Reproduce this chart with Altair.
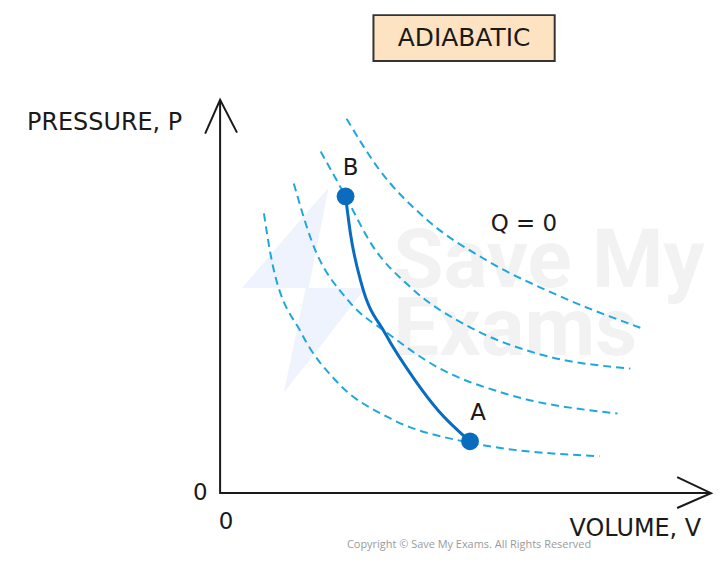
import altair as alt
import pandas as pd

# ---------------- data (V, P in arbitrary units, origin at axes corner) ----------------
iso1_v = [0.88, 1.04, 1.64, 2.38, 3.38, 4.98, 7.62]
iso1_p = [5.62, 4.66, 3.20, 2.20, 1.52, 1.02, 0.74]
iso2_v = [1.48, 1.84, 2.58, 3.38, 4.38, 5.72, 7.98]
iso2_p = [6.22, 5.06, 3.86, 3.20, 2.52, 2.00, 1.60]
iso3_v = [2.02, 2.52, 3.04, 3.84, 5.04, 6.38, 8.24]
iso3_p = [6.86, 5.96, 5.00, 4.12, 3.32, 2.80, 2.50]
iso4_v = [2.54, 3.18, 4.12, 5.38, 6.72, 8.44]
iso4_p = [7.52, 6.52, 5.52, 4.66, 4.00, 3.32]

adia_v = [2.52, 2.62, 2.84, 3.32, 3.92, 4.38, 5.02]
adia_p = [5.96, 5.20, 4.20, 3.20, 2.26, 1.66, 1.04]

point_names = ["A", "B"]
point_v = [5.02, 2.52]
point_p = [1.04, 5.96]

# axes (L shape + arrow heads)
axis_v = [0.0, 0.0, 9.86]
axis_p = [7.90, 0.0, 0.0]
arrow_up_v = [-0.30, 0.0, 0.34]
arrow_up_p = [7.22, 7.90, 7.24]
arrow_right_v = [9.18, 9.86, 9.18]
arrow_right_p = [0.32, 0.0, -0.30]

# watermark logo (two faint triangles)
logo1_v = [0.44, 1.78, 2.18]
logo1_top = [4.12, 5.68, 6.14]
logo1_bot = [4.12, 4.12, 6.14]
logo2_v = [1.28, 1.72, 2.92]
logo2_top = [2.02, 4.12, 4.12]
logo2_bot = [2.02, 2.58, 4.12]

# title box
box_v = [3.08]
box_v2 = [6.72]
box_p = [9.60]
box_p2 = [8.68]

# ---------------- scales ----------------
W, H = 707, 545
PX = 50.0
XMIN = -(221 - 8) / PX
XMAX = XMIN + W / PX
YMAX = (494 - 8) / PX
YMIN = YMAX - H / PX

xs = alt.Scale(domain=[XMIN, XMAX], nice=False, zero=False)
ys = alt.Scale(domain=[YMIN, YMAX], nice=False, zero=False)


def X(f="v"):
    return alt.X(f"{f}:Q", scale=xs, axis=None)


def Y(f="p"):
    return alt.Y(f"{f}:Q", scale=ys, axis=None)


def curve_df(vs, ps, name):
    return pd.DataFrame({"v": vs, "p": ps, "c": name, "o": range(len(vs))})


iso_df = pd.concat([
    curve_df(iso1_v, iso1_p, "i1"),
    curve_df(iso2_v, iso2_p, "i2"),
    curve_df(iso3_v, iso3_p, "i3"),
    curve_df(iso4_v, iso4_p, "i4"),
])
adia_df = curve_df(adia_v, adia_p, "ad")
axes_df = pd.concat([
    curve_df(axis_v, axis_p, "ax"),
    curve_df(arrow_up_v, arrow_up_p, "au"),
    curve_df(arrow_right_v, arrow_right_p, "ar"),
])
pts_df = pd.DataFrame({"name": point_names, "v": point_v, "p": point_p})

logo_df = pd.concat([
    pd.DataFrame({"v": logo1_v, "p": logo1_top, "p2": logo1_bot, "c": "l1"}),
    pd.DataFrame({"v": logo2_v, "p": logo2_top, "p2": logo2_bot, "c": "l2"}),
])

logo = alt.Chart(logo_df).mark_area(color="#EEF3FD", opacity=1, interpolate="linear").encode(
    x=X(), y=Y(), y2="p2:Q", detail="c:N"
)

wm_df = pd.DataFrame({"t": ["Save My", "Exams"], "v": [3.48, 3.48], "p": [4.64, 3.28]})
watermark = alt.Chart(wm_df).mark_text(
    font="Roboto", fontSize=82, fontWeight="bold", color="#F2F2F2", align="left", baseline="middle"
).encode(x=X(), y=Y(), text="t:N")

iso = alt.Chart(iso_df).mark_line(
    color="#1EA7DF", strokeWidth=2, strokeDash=[8, 5], interpolate="monotone"
).encode(x=X(), y=Y(), detail="c:N", order="o:Q")

adia = alt.Chart(adia_df).mark_line(
    color="#0A6CBF", strokeWidth=3, interpolate="monotone"
).encode(x=X(), y=Y(), order="o:Q")

pts = alt.Chart(pts_df).mark_circle(color="#0A6CBF", opacity=1, size=320).encode(x=X(), y=Y())

axes = alt.Chart(axes_df).mark_line(color="#1a1a1a", strokeWidth=2, strokeJoin="miter").encode(
    x=X(), y=Y(), detail="c:N", order="o:Q"
)

box_df = pd.DataFrame({"v": box_v, "v2": box_v2, "p": box_p, "p2": box_p2})
box = alt.Chart(box_df).mark_rect(fill="#FEE3C3", stroke="#333333", strokeWidth=2).encode(
    x=X(), x2="v2:Q", y=Y(), y2="p2:Q"
)

TXT = "#1a1a1a"
FONT = "DejaVu Sans"


def text_layer(labels, vs, ps, size, align="center", color=TXT, font=FONT):
    df = pd.DataFrame({"t": labels, "v": vs, "p": ps})
    return alt.Chart(df).mark_text(
        font=font, fontSize=size, color=color, align=align, baseline="middle"
    ).encode(x=X(), y=Y(), text="t:N")


title_txt = text_layer(["ADIABATIC"], [4.90], [9.14], 25)
axis_txt = text_layer(["PRESSURE, P", "VOLUME, V"], [-2.32, 8.34], [7.44, -0.72], 24)
zero_txt = text_layer(["0", "0"], [-0.40, 0.12], [0.0, -0.58], 23)
misc_txt = text_layer(["Q = 0", "A", "B"], [6.10, 5.18, 2.62], [5.40, 1.60, 6.52], 23)
copy_txt = text_layer(["Copyright © Save My Exams. All Rights Reserved"], [5.0], [-1.05], 11,
                      color="#9a9a9a", font="Open Sans")

chart = alt.layer(
    logo, watermark, iso, adia, pts, axes, box,
    title_txt, axis_txt, zero_txt, misc_txt, copy_txt
).properties(width=W, height=H, padding=0).configure_view(stroke=None)

chart.save("out.html", embed_options={"renderer": "svg", "actions": False})
